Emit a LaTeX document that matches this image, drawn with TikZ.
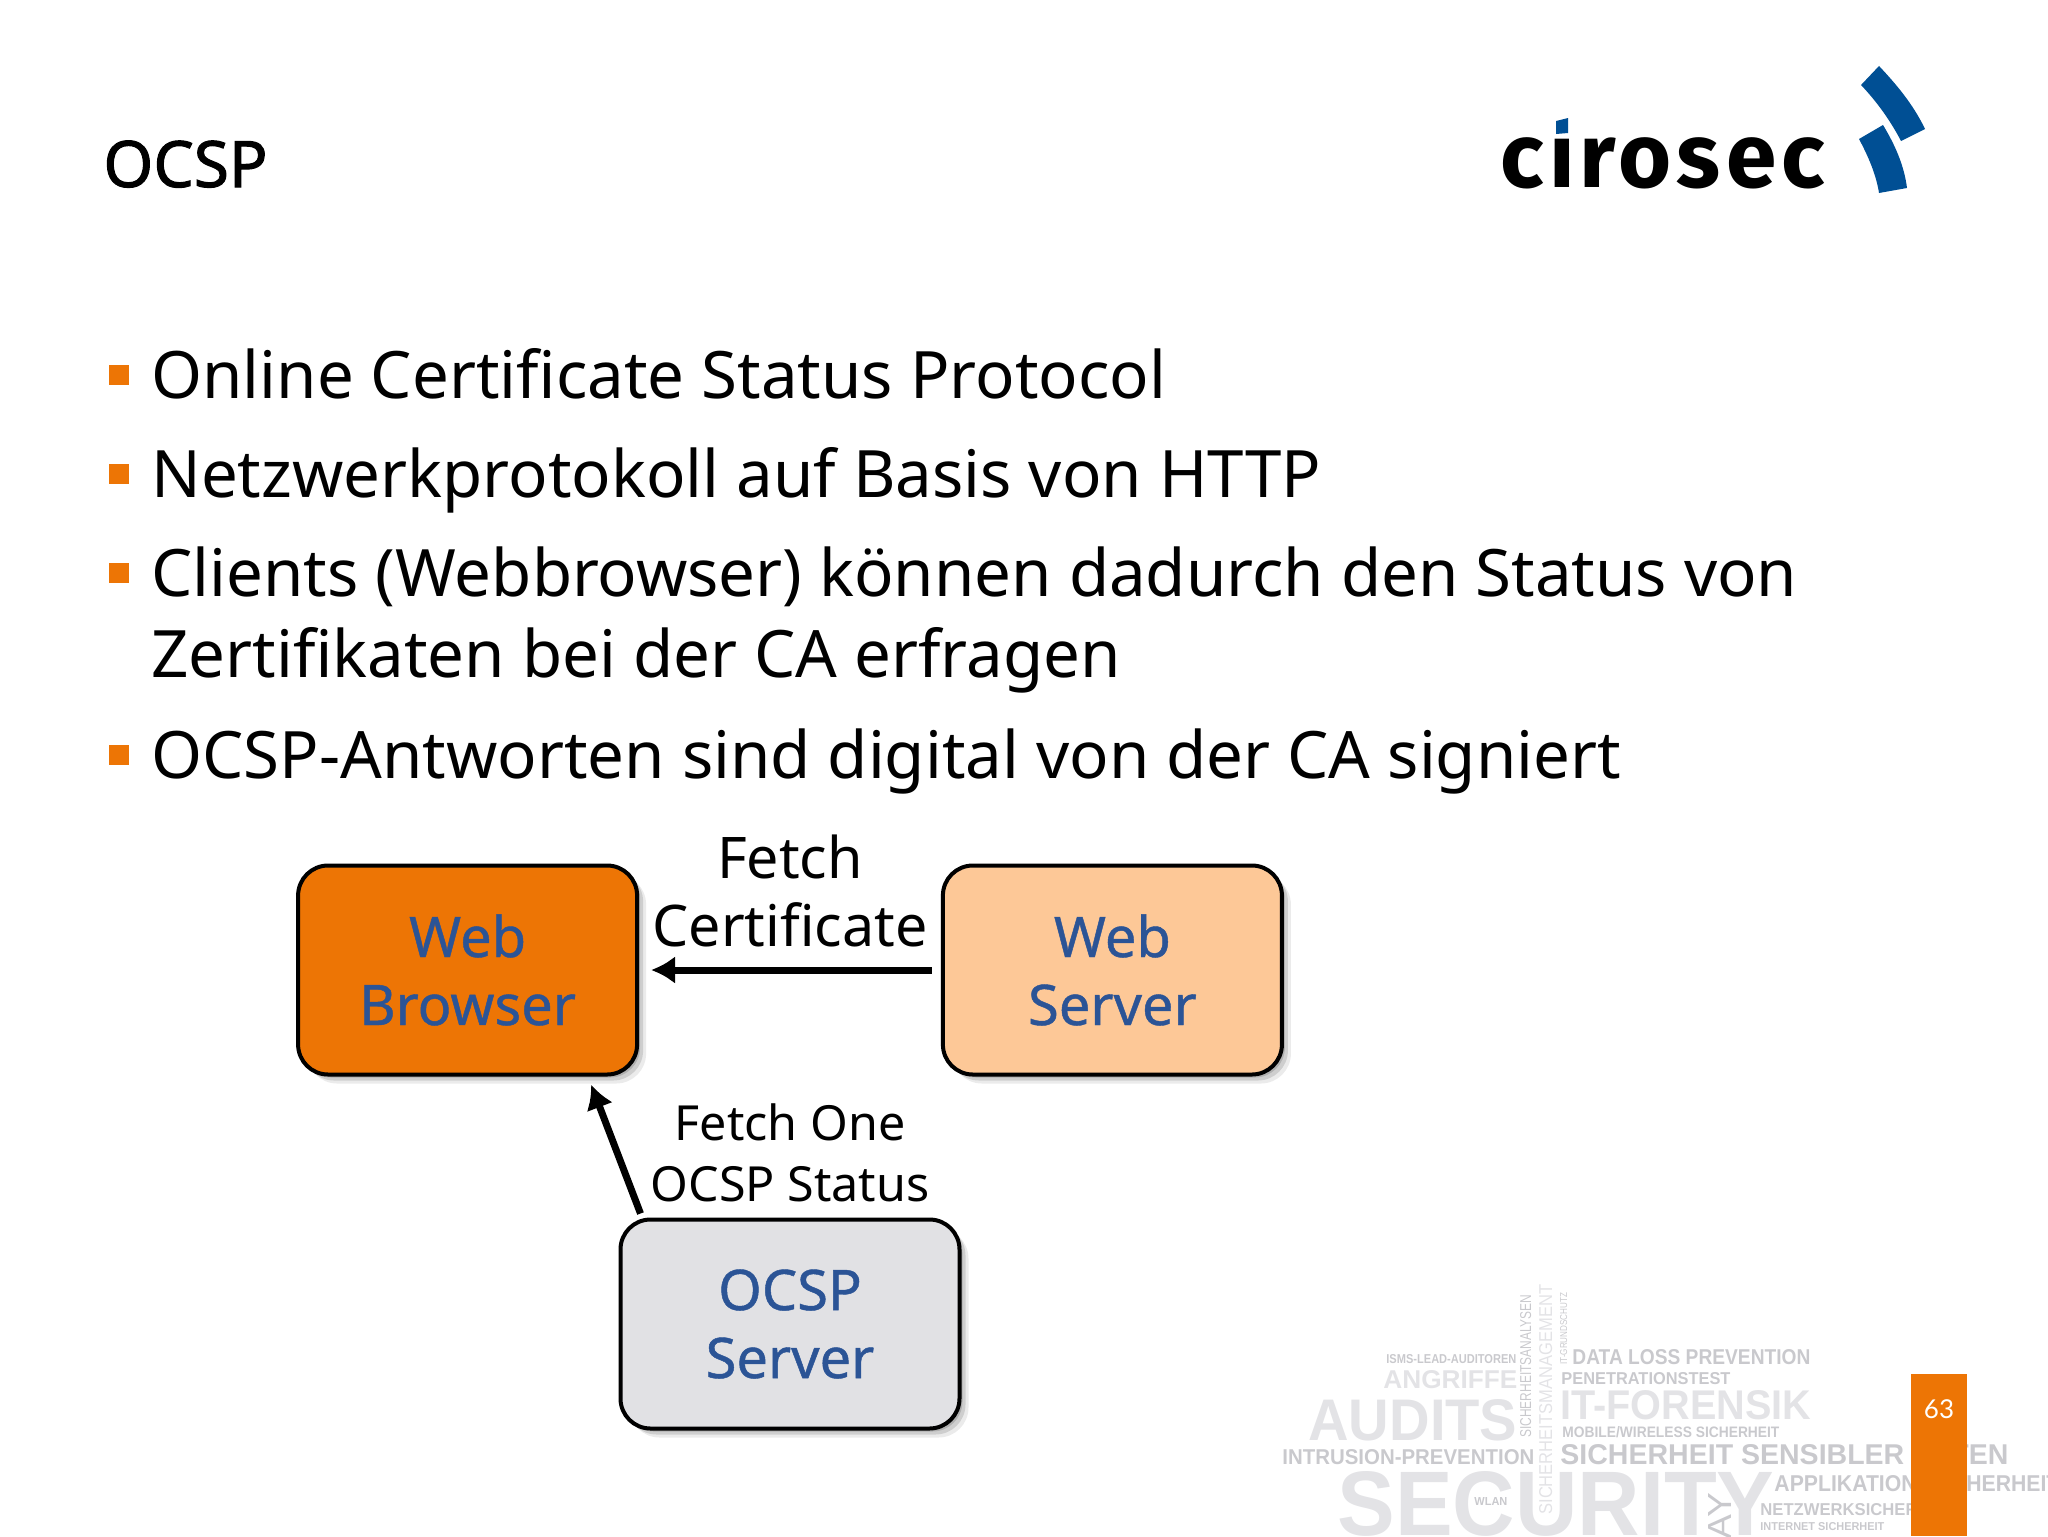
\documentclass[tikz,border=0pt]{standalone}
\usepackage{fontspec}
\setmainfont{Noto Sans}
\newfontfamily\titlefont{Noto Sans}[FakeBold=1.6]
\newfontfamily\labelfont{Noto Sans}[FakeBold=0.8]
\newfontfamily\logofont{Fira Sans}[LetterSpace=5.6]
\newfontfamily\pagefont{Lato}
\newfontfamily\cloudfont{Liberation Sans}
\usetikzlibrary{matrix,arrows.meta,shadows}
\definecolor{ciroorange}{HTML}{ED7505}
\definecolor{ciropeach}{HTML}{FDC897}
\definecolor{cirogray}{HTML}{E1E1E4}
\definecolor{cirotext}{HTML}{2B5496}
\definecolor{ciroblue}{HTML}{004F94}
\definecolor{cloudlight}{HTML}{E3E3E6}
\definecolor{clouddark}{HTML}{C9C9CD}
\newdimen\px
\px=.5pt
\tikzset{
    boxnode/.style={rectangle,draw=black,line width=2pt,rounded corners=15pt,
        minimum width=169.5pt,minimum height=104.5pt,inner sep=0pt,align=center,
        text=cirotext,font=\labelfont\fontsize{28}{34}\selectfont,
        drop shadow={shadow xshift=1.5pt,shadow yshift=-1.5pt,opacity=.15,fill=black},
        drop shadow={shadow xshift=3pt,shadow yshift=-3pt,opacity=.12,fill=black},
        drop shadow={shadow xshift=4.5pt,shadow yshift=-4.5pt,opacity=.08,fill=black}},
    arrowline/.style={line width=3.5pt,-{Latex[length=12pt,width=14pt]}},
    edgelabel/.style={inner sep=0pt,align=center,text=black},
    bulletnode/.style={rectangle,fill=ciroorange,minimum size=10pt,inner sep=0pt},
    itemnode/.style={anchor=base west,inner sep=0pt,align=left,
        font=\fontsize{32.7}{40.5}\selectfont},
}
\begin{document}
\begin{tikzpicture}[x=.5pt,y=-.5pt]
    \useasboundingbox (0,0) rectangle (2048,1536);
    \clip (0,0) rectangle (2048,1536);

    % title and logo
    \node (title) [anchor=base west,inner sep=0pt,font=\titlefont\fontsize{32}{36}\selectfont]
        at (103,187) {OCSP};
    \node (logo) [anchor=base west,inner sep=0pt,font=\logofont\bfseries\fontsize{45.5}{50}\selectfont]
        at (1500,187) {cirosec};
    \fill[white] (1550,108) rectangle (1574,137);
    \fill[ciroblue] (1556,121) -- (1568,118) -- (1568,133) -- (1556,134) -- cycle;
    \fill[ciroblue] (1879,66) .. controls (1896,84) and (1913,104) .. (1925,129)
        -- (1901,141) .. controls (1890,120) and (1877,102) .. (1861,85) -- cycle;
    \fill[ciroblue] (1883,125) .. controls (1895,145) and (1904,165) .. (1907,188)
        -- (1879,193) .. controls (1876,174) and (1868,156) .. (1859,139) -- cycle;

    % bullet list
    \foreach \ydot/\ypos/\itemtext [count=\i] in {
        375/398/{Online Certificate Status Protocol},
        474/497/{Netzwerkprotokoll auf Basis von HTTP},
        573/677/{Clients (Webbrowser) können dadurch den Status von\\Zertifikaten bei der CA erfragen},
        755/778/{OCSP-Antworten sind digital von der CA signiert}} {
        \node (bullet\i) [bulletnode] at (119,\ydot) {};
        \node (item\i) [itemnode] at (151,\ypos) {\itemtext};
    }

    % word cloud, x / baseline / width / height / colour / text
    \foreach \xpos/\ypos/\boxw/\boxh/\col/\word [count=\i] in {
        1386/1363/130/9/clouddark/{ISMS-LEAD-AUDITOREN},
        1383/1388/134/18/cloudlight/{ANGRIFFE},
        1308/1440/209/41/cloudlight/{AUDITS},
        1282/1464/252/15/clouddark/{INTRUSION-PREVENTION},
        1337/1535/437/64/cloudlight/{SECURITY},
        1474/1505/33/8/clouddark/{WLAN},
        1572/1364/238/15/clouddark/{DATA LOSS PREVENTION},
        1561/1384/169/12/clouddark/{PENETRATIONSTEST},
        1560/1419/251/29/cloudlight/{IT-FORENSIK},
        1562/1437/217/11/clouddark/{MOBILE/WIRELESS SICHERHEIT},
        1560/1464/448/20/clouddark/{SICHERHEIT SENSIBLER DATEN},
        1774/1491/285/16/clouddark/{APPLIKATIONSSICHERHEIT},
        1760/1515/195/12/clouddark/{NETZWERKSICHERHEIT},
        1760/1530/124/8/clouddark/{INTERNET SICHERHEIT}} {
        \node (word\i) [anchor=base west,inner sep=0pt,text=\col,font=\cloudfont\bfseries]
            at (\xpos,\ypos) {\resizebox{\boxw\px}{\boxh\px}{\word}};
    }
    \foreach \xpos/\ypos/\boxw/\boxh/\col/\word [count=\i] in {
        1531/1438/143/11/clouddark/{SICHERHEITSANALYSEN},
        1552/1515/230/13/cloudlight/{SICHERHEITSMANAGEMENT},
        1567/1365/72/7/clouddark/{IT-GRUNDSCHUTZ},
        1731/1540/47/23/clouddark/{AY}} {
        \node (upword\i) [anchor=base west,inner sep=0pt,rotate=90,text=\col,font=\cloudfont]
            at (\xpos,\ypos) {\resizebox{\boxw\px}{\boxh\px}{\word}};
    }

    % page number
    \fill[ciroorange] (1911,1374) rectangle (1967,1536);
    \node (page) [anchor=base,inner sep=0pt,text=white,font=\pagefont\fontsize{13}{15}\selectfont]
        at (1939,1418) {63};

    % the three boxes
    \matrix (m) [column sep=-10.3pt,row sep=70.5pt] at (790,1147) {
        \node[boxnode,fill=ciroorange] (browser) {Web\\Browser}; & & \node[boxnode,fill=ciropeach] (server) {Web\\Server}; \\
        & \node[boxnode,fill=cirogray] (ocsp) {OCSP\\Server}; & \\
    };

    % labels and arrows
    \node (fetchcert) [edgelabel,font=\fontsize{28.7}{34}\selectfont] at (790,891) {Fetch\\Certificate};
    \node (fetchocsp) [edgelabel,font=\fontsize{24.2}{30.5}\selectfont] at (790,1153) {Fetch One\\OCSP Status};
    \draw[arrowline,shorten <=4.5pt,shorten >=6pt] (server.west) -- (browser.east);
    \draw[arrowline] ([xshift=22*\px,yshift=4*\px]ocsp.north west) -- ([xshift=-48*\px,yshift=-8*\px]browser.south east);
\end{tikzpicture}
\end{document}
